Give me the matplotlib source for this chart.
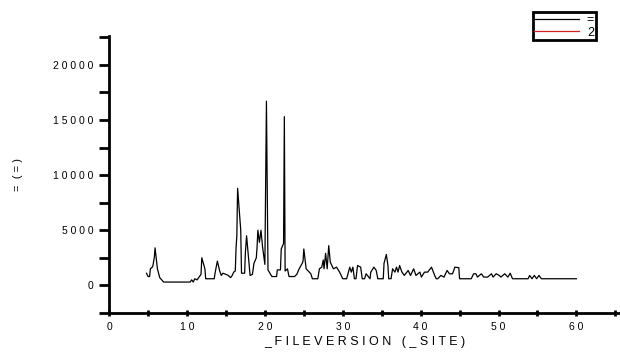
import matplotlib.pyplot as plt
from matplotlib.lines import Line2D
from matplotlib.ticker import MultipleLocator, FuncFormatter

plt.switch_backend('agg')
plt.rcParams['font.family'] = ['Liberation Sans', 'DejaVu Sans']

# trace
xs = [4.8, 5.0, 5.2, 5.3, 5.6, 5.8, 5.9, 6.2, 6.5, 7.0,
      10.4, 10.6, 10.8, 11.0, 11.3, 11.8, 11.9, 12.3, 12.4, 13.5,
      13.6, 13.9, 14.2, 14.4, 14.6, 15.0, 15.3, 15.6, 15.8, 16.0,
      16.2, 16.3, 16.4, 16.5, 16.9, 17.0, 17.4, 17.5, 17.65, 17.9,
      18.1, 18.4, 18.6, 18.9, 19.0, 19.1, 19.3, 19.5, 19.7, 20.0,
      20.2, 20.4, 20.9, 21.5, 21.6, 22.0, 22.1, 22.4, 22.5, 22.6,
      22.9, 23.1, 23.8, 24.1, 24.4, 24.8, 24.9, 25.0, 25.3, 25.5,
      25.9, 26.1, 26.8, 27.0, 27.3, 27.5, 27.6, 27.8, 28.0, 28.2,
      28.4, 28.8, 29.2, 29.6, 30.0, 30.5, 30.9, 31.1, 31.3, 31.5,
      31.7, 31.9, 32.3, 32.5, 32.8, 33.0, 33.5, 33.6, 34.0, 34.3,
      34.5, 35.2, 35.3, 35.6, 35.8, 35.9, 36.2, 36.4, 36.7, 36.9,
      37.1, 37.3, 37.6, 37.9, 38.4, 38.7, 39.1, 39.4, 39.9, 40.1,
      40.5, 40.9, 41.4, 41.8, 42.0, 42.2, 42.6, 43.0, 43.4, 43.7,
      44.1, 44.4, 44.9, 45.0, 46.5, 46.8, 47.1, 47.3, 47.8, 48.1,
      48.6, 49.1, 49.3, 49.7, 50.1, 50.3, 50.8, 51.2, 51.5, 51.8,
      53.8, 54.0, 54.3, 54.6, 54.9, 55.2, 55.5, 60.0]
ys = [1100, 800, 800, 1500, 1700, 2500, 3400, 1500, 700, 300,
      300, 500, 300, 600, 500, 1000, 2500, 1500, 600, 600,
      1100, 2200, 1300, 900, 1100, 1000, 900, 700, 900, 1200,
      1300, 3400, 4500, 8800, 5000, 1100, 1100, 3000, 4500, 2500,
      900, 1000, 2000, 2500, 3500, 5000, 3900, 5000, 3500, 1900,
      16700, 1400, 800, 800, 1400, 1400, 3300, 3800, 15300, 1300,
      1500, 800, 800, 1000, 1500, 2000, 2200, 3300, 1500, 1350,
      1050, 600, 600, 1500, 1650, 2300, 1500, 2900, 1500, 3600,
      2100, 1500, 1650, 1200, 600, 600, 1650, 1200, 1650, 600,
      600, 1800, 1650, 600, 600, 1050, 600, 1200, 1650, 1350,
      600, 600, 2000, 2800, 1800, 600, 600, 1500, 1200, 1650,
      1200, 1800, 1200, 900, 1350, 900, 1500, 900, 1200, 750,
      1200, 1200, 1650, 900, 600, 600, 900, 750, 1350, 1050,
      1050, 1650, 1600, 600, 600, 1050, 1050, 750, 1050, 750,
      750, 1050, 750, 1050, 900, 750, 1050, 750, 1100, 600,
      600, 900, 600, 900, 600, 900, 600, 600]
legend_labels = ['=', '2']
legend_colors = ['black', '#d62020']


def spaced(s):
    return ' '.join(s)


fig = plt.figure(figsize=(6.2, 3.54), dpi=100)
ax = fig.add_axes([0.176, 0.116, 0.824, 0.782])
ax.plot(xs, ys, color='black', lw=0.9)

ax.set_xlim(0, 65.6)
ax.set_ylim(-2500, 22600)
for s in ['top', 'right']:
    ax.spines[s].set_visible(False)
for s in ['left', 'bottom']:
    ax.spines[s].set_linewidth(2)

ax.xaxis.set_major_locator(MultipleLocator(10))
ax.xaxis.set_minor_locator(MultipleLocator(5))
ax.yaxis.set_major_locator(MultipleLocator(5000))
ax.yaxis.set_minor_locator(MultipleLocator(2500))
fmt = FuncFormatter(lambda v, p: spaced(str(int(v))))
ax.xaxis.set_major_formatter(fmt)
ax.yaxis.set_major_formatter(fmt)
ax.tick_params(axis='y', which='both', direction='out', length=7, width=2, labelsize=7.5, pad=4)
ax.tick_params(axis='x', which='both', direction='inout', length=5, width=2, labelsize=7.5, pad=4)

ax.set_xlabel(spaced('_FILEVERSION') + '   ' + spaced('(_SITE)'), fontsize=9, labelpad=3)
ax.set_ylabel('=  ( = )', fontsize=8, labelpad=22)

handles = [Line2D([], [], color=c, lw=0.9) for c in legend_colors]
leg = fig.legend(handles, legend_labels, loc='upper right',
                 bbox_to_anchor=(596 / 620, 1 - 12 / 354), fontsize=9,
                 handlelength=3.6, handletextpad=0.6, labelspacing=0.05,
                 borderpad=0.15, borderaxespad=0, fancybox=False, framealpha=1)
leg.get_frame().set_edgecolor('black')
leg.get_frame().set_linewidth(2)

fig.savefig('out.png', dpi=100)
